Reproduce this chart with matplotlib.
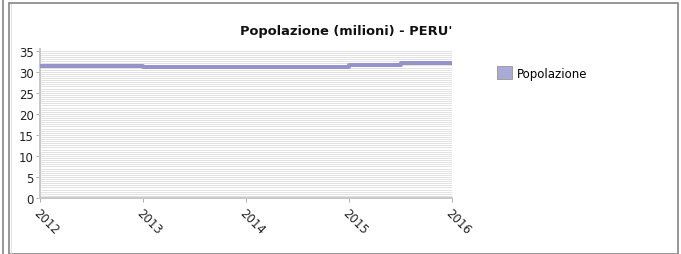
"""
Popolazione (milioni) - PERU' : step line chart, JFreeChart-like look.
"""

import numpy as np
import matplotlib
matplotlib.use("Agg")
import matplotlib.pyplot as plt
from matplotlib.patches import Rectangle, Patch
from matplotlib.lines import Line2D

# --- data ---
YEARS = [2012, 2013, 2014, 2015, 2015.5, 2016]
POPULATION = [31.4, 31.2, 31.2, 31.7, 32.0, 32.0]
X_TICKS = [2012, 2013, 2014, 2015, 2016]
Y_TICKS = [0, 5, 10, 15, 20, 25, 30, 35]
TITLE = "Popolazione (milioni) - PERU'"
SERIES_LABEL = "Popolazione"

W, H = 681, 255
DPI = 100
PX = 72.0 / DPI  # one pixel in points

fig = plt.figure(figsize=(W / DPI, H / DPI), dpi=DPI)
fig.patch.set_facecolor("white")

# plot area in pixels: left 40, right 452, top 50, bottom 199
ax = fig.add_axes([40 / W, (H - 199) / H, (452 - 40) / W, (199 - 50) / H])
ax.set_facecolor("white")

ax.step(YEARS, POPULATION, where="post", color="#9494c8",
        linewidth=4 * PX, solid_capstyle="butt", zorder=3)

ax.set_xlim(2012, 2016)
ax.set_ylim(0, 35.4)
ax.set_xticks(X_TICKS)
ax.set_xticklabels([str(x) for x in X_TICKS], rotation=-45,
                   ha="left", va="top", rotation_mode="anchor")
ax.set_yticks(Y_TICKS)

# fine striped background
ax.set_yticks(np.arange(0, 35.5, 0.5), minor=True)
ax.yaxis.grid(True, which="both", color="#e2e2e2", linewidth=1.0 * PX)
ax.tick_params(axis="y", which="minor", length=0)
ax.set_axisbelow(True)

for side in ("top", "right"):
    ax.spines[side].set_visible(False)
for side in ("left", "bottom"):
    ax.spines[side].set_color("#c8c8c8")
    ax.spines[side].set_linewidth(2 * PX)

ax.tick_params(axis="both", which="major", length=3, width=1 * PX,
               color="#b0b0b0", labelsize=8.5, labelcolor="#222222", pad=1.5)
ax.tick_params(axis="x", pad=3)

fig.text(346 / W, 1 - 32 / H, TITLE, ha="center", va="center",
         fontsize=9.4, fontweight="bold", color="#111111")

# legend
handle = Patch(facecolor="#aaaad6", edgecolor="#a0a0a0", linewidth=1 * PX)
fig.legend([handle], [SERIES_LABEL], loc="center left",
           bbox_to_anchor=(492 / W, 1 - 74 / H), frameon=False,
           fontsize=8.5, handlelength=1.3, handleheight=1.3,
           handletextpad=0.4, borderaxespad=0)

# outer frames
fig.add_artist(Rectangle((8.5 / W, 0.5 / H), (678 - 8.5) / W, (251.5 - 0.5) / H,
                         transform=fig.transFigure, fill=False,
                         edgecolor="#808080", linewidth=1.6 * PX))
fig.add_artist(Line2D([10.5 / W, 10.5 / W], [0, 1 - 5 / H],
                      transform=fig.transFigure, color="#e0e0e0",
                      linewidth=1 * PX))
fig.add_artist(Line2D([2.5 / W, 2.5 / W], [0, 1],
                      transform=fig.transFigure, color="#808080",
                      linewidth=1.6 * PX))

fig.savefig("out.png", dpi=DPI)
